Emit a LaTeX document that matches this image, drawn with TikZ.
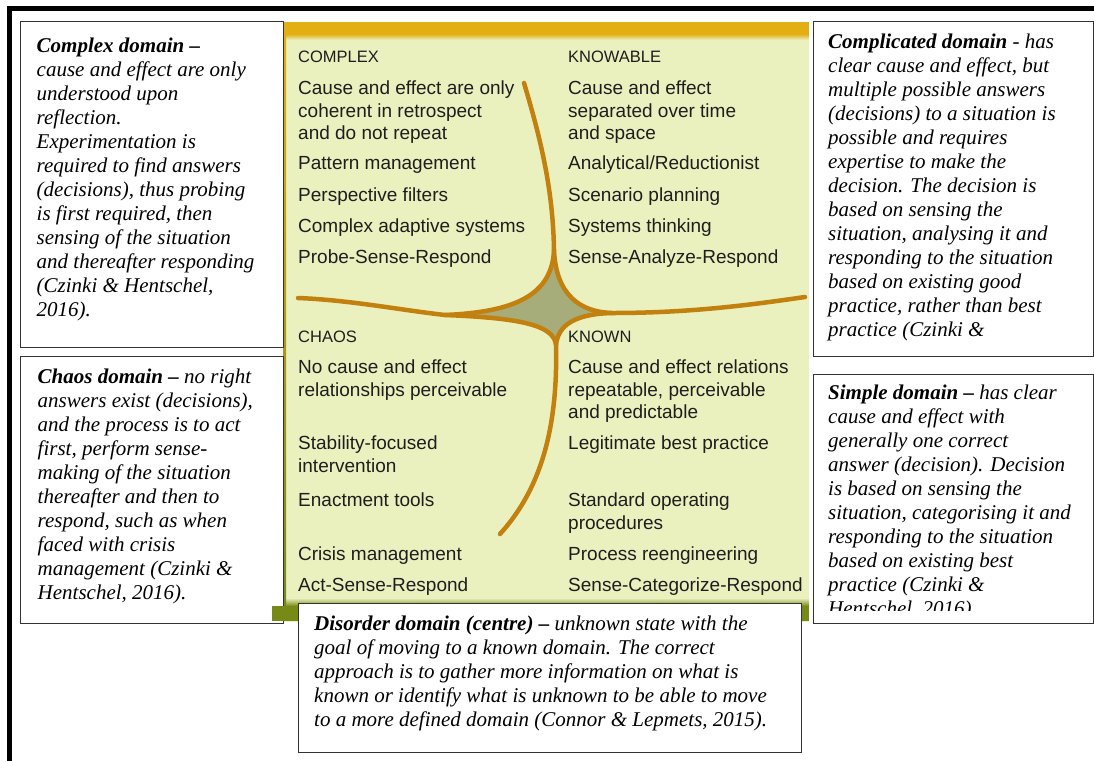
\documentclass[tikz,border=0pt]{standalone}
\usepackage{fontspec}
\setmainfont{Liberation Serif}
\setsansfont{Liberation Sans}
\usetikzlibrary{positioning}

\definecolor{panelfill}{RGB}{235,241,190}
\definecolor{bandgold}{RGB}{226,174,18}
\definecolor{bandolive}{RGB}{120,138,22}
\definecolor{curvebrown}{RGB}{194,128,14}
\definecolor{starfill}{RGB}{166,173,122}
\definecolor{boxline}{RGB}{50,50,50}
\definecolor{paneltext}{RGB}{30,30,30}

\tikzset{
  descbox/.style={draw=boxline, line width=1.3pt, fill=white, inner sep=0pt, anchor=north west},
  desctext/.style={inner sep=0pt, align=left, font=\fontsize{21}{24}\selectfont\itshape, text=black},
  quadhead/.style={inner sep=0pt, anchor=north west, font=\sffamily\fontsize{16.5}{20}\selectfont, text=paneltext},
  quaditem/.style={inner sep=0pt, anchor=north west, align=left, font=\sffamily\fontsize{19}{22.5}\selectfont, text=paneltext},
  divider/.style={draw=curvebrown, line width=4.5pt, line cap=round},
}

\begin{document}
\begin{tikzpicture}[x=1pt, y=-1pt]
\useasboundingbox (0,0) rectangle (1094,761);

% the framework panel
\fill[panelfill] (283,22) rectangle (809,622);
\fill[bandgold] (283,22) rectangle (809,34);
\shade[top color=bandgold, bottom color=panelfill] (283,34) rectangle (809,40);
\shade[top color=panelfill, bottom color=bandolive] (283,598) rectangle (809,606);
\shade[top color=bandgold, bottom color=bandolive] (283,34) rectangle (286,606);

% centre star and dividing curves
\fill[starfill] (445,315) .. controls (515,312) and (552,295) .. (554,250)
  .. controls (556,295) and (580,312) .. (612,313)
  .. controls (575,314) and (558,325) .. (556,345)
  .. controls (554,325) and (520,318) .. (445,315) -- cycle;
\draw[divider] (298,298) .. controls (350,300) and (400,310) .. (445,315)
  .. controls (515,312) and (552,295) .. (554,250)
  .. controls (553,190) and (541,140) .. (524,83);
\draw[divider] (554,250) .. controls (556,295) and (580,312) .. (612,313)
  .. controls (690,313) and (750,305) .. (805,297);
\draw[divider] (445,315) .. controls (520,318) and (554,325) .. (556,345)
  .. controls (558,430) and (540,490) .. (500,534);
\draw[divider] (612,313) .. controls (575,314) and (558,325) .. (556,345);

% quadrant texts
\node[quadhead] (cxhead) at (298,51) {COMPLEX};
\node[quaditem] (cx1) at (298,81) {Cause and effect are only\\coherent in retrospect\\and do not repeat};
\node[quaditem] (cx2) at (298,156) {Pattern management};
\node[quaditem] (cx3) at (298,188) {Perspective filters};
\node[quaditem] (cx4) at (298,219) {Complex adaptive systems};
\node[quaditem] (cx5) at (298,250) {Probe-Sense-Respond};

\node[quadhead] (kbhead) at (568,51) {KNOWABLE};
\node[quaditem] (kb1) at (568,81) {Cause and effect\\separated over time\\and space};
\node[quaditem] (kb2) at (568,156) {Analytical/Reductionist};
\node[quaditem] (kb3) at (568,188) {Scenario planning};
\node[quaditem] (kb4) at (568,219) {Systems thinking};
\node[quaditem] (kb5) at (568,250) {Sense-Analyze-Respond};

\node[quadhead] (chhead) at (298,331) {CHAOS};
\node[quaditem] (ch1) at (298,360) {No cause and effect\\relationships perceivable};
\node[quaditem] (ch2) at (298,436) {Stability-focused\\intervention};
\node[quaditem] (ch3) at (298,493) {Enactment tools};
\node[quaditem] (ch4) at (298,547) {Crisis management};
\node[quaditem] (ch5) at (298,578) {Act-Sense-Respond};

\node[quadhead] (knhead) at (568,331) {KNOWN};
\node[quaditem] (kn1) at (568,360) {Cause and effect relations\\repeatable, perceivable\\and predictable};
\node[quaditem] (kn2) at (568,436) {Legitimate best practice};
\node[quaditem] (kn3) at (568,493) {Standard operating\\procedures};
\node[quaditem] (kn4) at (568,547) {Process reengineering};
\node[quaditem] (kn5) at (568,578) {Sense-Categorize-Respond};

% domain descriptions
\node[descbox, minimum width=263.5pt, minimum height=326.5pt] (complexbox) at (19.5,20.5) {};
\node[desctext, below right=17.5pt and 17pt of complexbox.north west] (complextext)
  {\textbf{Complex domain –}\\cause and effect are only\\understood upon\\reflection.\\Experimentation is\\required to find answers\\(decisions), thus probing\\is first required, then\\sensing of the situation\\and thereafter responding\\(Czinki \& Hentschel,\\2016).};

\node[descbox, minimum width=263.5pt, minimum height=266.5pt] (chaosbox) at (19.5,356) {};
\node[desctext, below right=12.5pt and 18pt of chaosbox.north west] (chaostext)
  {\textbf{Chaos domain –} no right\\answers exist (decisions),\\and the process is to act\\first, perform sense-\\making of the situation\\thereafter and then to\\respond, such as when\\faced with crisis\\management (Czinki \&\\Hentschel, 2016).};

\node[descbox, minimum width=279.8pt, minimum height=335.3pt] (complicatedbox) at (812.7,20.7) {};
\node[desctext, below right=12.8pt and 15.3pt of complicatedbox.north west] (complicatedtext)
  {\textbf{Complicated domain} - has\\clear cause and effect, but\\multiple possible answers\\(decisions) to a situation is\\possible and requires\\expertise to make the\\decision. The decision is\\based on sensing the\\situation, analysing it and\\responding to the situation\\based on existing good\\practice, rather than best\\practice (Czinki \&};

\node[descbox, minimum width=279.8pt, minimum height=249pt] (simplebox) at (812.7,374) {};
\begin{scope}
\clip (812.7,374) rectangle (1092.5,610);
\node[desctext, below right=11pt and 15.3pt of simplebox.north west] (simpletext)
  {\textbf{Simple domain –} has clear\\cause and effect with\\generally one correct\\answer (decision). Decision\\is based on sensing the\\situation, categorising it and\\responding to the situation\\based on existing best\\practice (Czinki \&\\Hentschel, 2016).};
\end{scope}

\fill[bandolive] (272,606) rectangle (809,621);

\node[descbox, minimum width=503pt, minimum height=149pt] (disorderbox) at (298,603) {};
\node[desctext, below right=12.5pt and 16pt of disorderbox.north west] (disordertext)
  {\textbf{Disorder domain (centre) –} unknown state with the\\goal of moving to a known domain. The correct\\approach is to gather more information on what is\\known or identify what is unknown to be able to move\\to a more defined domain (Connor \& Lepmets, 2015).};

% outer frame
\draw[line width=5pt] (9.5,761) -- (9.5,8.5) -- (1094,8.5);
\end{tikzpicture}
\end{document}
